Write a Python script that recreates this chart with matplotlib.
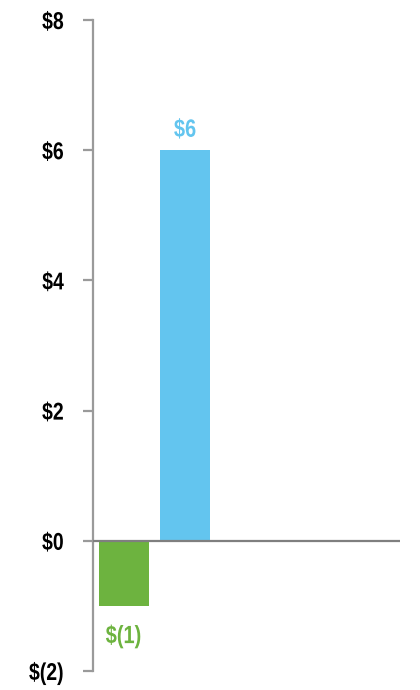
import matplotlib.pyplot as plt
from matplotlib.ticker import FuncFormatter
from matplotlib.patheffects import AbstractPathEffect
from matplotlib.transforms import Affine2D

categories = ['A', 'B', 'C', 'D', 'E']
values = [-1, 6, None, None, None]
bar_colors = ['#6db33f', '#63c5ef']
labels = ['$(1)', '$6']

plt.rcParams['font.family'] = ['Liberation Sans', 'DejaVu Sans']


class Squeeze(AbstractPathEffect):
    # narrow the glyphs horizontally, like a condensed font
    def __init__(self, sx=0.8, anchor='center'):
        super().__init__()
        self.sx = sx
        self.anchor = anchor

    def draw_path(self, renderer, gc, tpath, affine, rgbFace=None):
        xs = tpath.vertices[:, 0]
        if len(xs) == 0:
            return
        cx = xs.max() if self.anchor == 'right' else (xs.min() + xs.max()) / 2
        t = Affine2D().translate(-cx, 0).scale(self.sx, 1).translate(cx, 0) + affine
        renderer.draw_path(gc, tpath, t, rgbFace)


fig = plt.figure(figsize=(4.2, 6.9), dpi=100)
ax = fig.add_axes([93 / 420, 1 - 671 / 690, 307 / 420, 651 / 690])

xs = list(range(len(categories)))
shown = [i for i, v in enumerate(values) if v is not None]
bars = ax.bar([xs[i] for i in shown], [values[i] for i in shown],
              width=0.81, color=bar_colors, zorder=2)

for b, lab, col, v in zip(bars, labels, bar_colors, [values[i] for i in shown]):
    x = b.get_x() + b.get_width() / 2
    if v < 0:
        t = ax.text(x, v - 0.28, lab, ha='center', va='top', color=col,
                    fontsize=18, fontweight='bold')
    else:
        t = ax.text(x, v + 0.13, lab, ha='center', va='bottom', color=col,
                    fontsize=18, fontweight='bold')
    t.set_path_effects([Squeeze(0.8, 'center')])

ax.set_xlim(-0.5, len(categories) - 0.5)
ax.set_ylim(-2, 8)
ax.set_yticks(range(-2, 9, 2))

def money(v, pos):
    v = int(round(v))
    return f'$({-v})' if v < 0 else f'${v}'

ax.yaxis.set_major_formatter(FuncFormatter(money))
ax.axhline(0, color='#7f7f7f', lw=1.6, zorder=3)

for s in ['top', 'right', 'bottom']:
    ax.spines[s].set_visible(False)
ax.spines['left'].set_color('#9a9a9a')
ax.spines['left'].set_linewidth(1.6)
ax.set_xticks([])
ax.tick_params(axis='y', length=7, width=1.6, color='#9a9a9a', pad=14,
               labelsize=17.5)
for t in ax.get_yticklabels():
    t.set_fontweight('bold')
    t.set_path_effects([Squeeze(0.8, 'right')])

fig.savefig('out.png', dpi=100)
